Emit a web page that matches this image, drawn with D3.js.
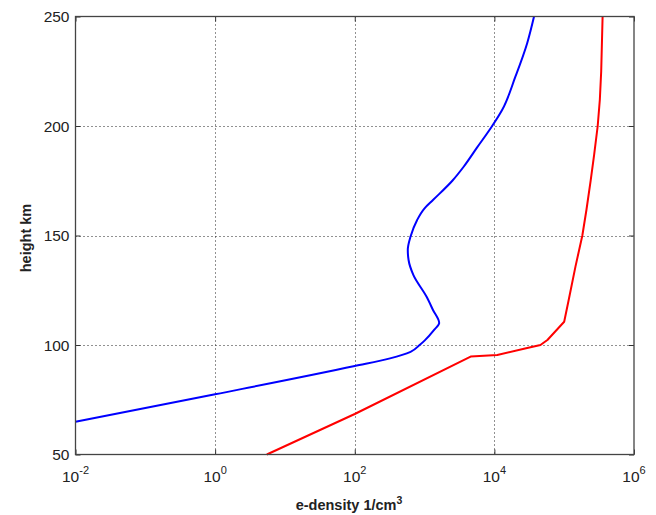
<!DOCTYPE html>
<html>
<head>
<meta charset="utf-8">
<script src="https://cdn.jsdelivr.net/npm/d3@7"></script>
<style>
  body { margin: 0; background: #fff; }
  svg { display: block; font-family: "Liberation Sans", Arial, sans-serif; }
</style>
</head>
<body>
<div id="chart"></div>
<script>
// values (height km, density 1/cm^3)
const blueHeight = [65, 77.5, 90.4, 93.9, 96.9, 100, 102, 107, 110, 116, 122, 132, 138.8, 143.4, 149.5, 157, 162.4, 166.2, 175, 181.4, 190, 200, 207.3, 222.5, 237.8, 250];
const blueDensity = [0.01, 1, 100, 320, 630, 850, 1000, 1380, 1620, 1320, 1070, 690, 590, 575, 630, 780, 1000, 1320, 2500, 3630, 5600, 9300, 12900, 20000, 29500, 37000];

const redHeight = [50, 68.5, 94.7, 95.4, 98.6, 100, 102.3, 110.6, 120, 135.8, 150, 162, 175.3, 187, 200, 212, 225, 250];
const redDensity = [5.5, 100, 4570, 11000, 29500, 45700, 57500, 100000, 115000, 145000, 182000, 209000, 240000, 269000, 302000, 324000, 339000, 355000];

const xTicks = [1e-2, 1e0, 1e2, 1e4, 1e6];
const xTickExp = ["-2", "0", "2", "4", "6"];
const yTicks = [50, 100, 150, 200, 250];

const W = 656, H = 515;
const mLeft = 75.5, mRight = 634, mTop = 16.5, mBottom = 454.5;

const svg = d3.select("#chart").append("svg")
    .attr("width", W)
    .attr("height", H);

const x = d3.scaleLog().domain([1e-2, 1e6]).range([mLeft, mRight]);
const y = d3.scaleLinear().domain([50, 250]).range([mBottom, mTop]);

// grid
const grid = svg.append("g")
    .attr("stroke", "#222")
    .attr("stroke-width", 1)
    .attr("stroke-dasharray", "1,3");

grid.selectAll(".vg").data(xTicks.slice(1, -1)).join("line")
    .attr("x1", d => Math.round(x(d)) + 0.5).attr("x2", d => Math.round(x(d)) + 0.5)
    .attr("y1", mTop).attr("y2", mBottom);

grid.selectAll(".hg").data(yTicks.slice(1, -1)).join("line")
    .attr("y1", d => Math.round(y(d)) + 0.5).attr("y2", d => Math.round(y(d)) + 0.5)
    .attr("x1", mLeft).attr("x2", mRight);

// curves
const smooth = d3.line()
    .x(d => x(d[1]))
    .y(d => y(d[0]))
    .curve(d3.curveMonotoneY);

const straight = d3.line()
    .x(d => x(d[1]))
    .y(d => y(d[0]));

const plot = svg.append("g");

plot.append("path")
    .datum(d3.zip(blueHeight, blueDensity))
    .attr("fill", "none")
    .attr("stroke", "#0000ff")
    .attr("stroke-width", 2)
    .attr("stroke-linejoin", "round")
    .attr("d", smooth);

plot.append("path")
    .datum(d3.zip(redHeight, redDensity))
    .attr("fill", "none")
    .attr("stroke", "#ff0000")
    .attr("stroke-width", 2)
    .attr("stroke-linejoin", "round")
    .attr("d", straight);

// axes (ticks inside, on all four sides)
const tickLen = 5;
svg.append("g")
    .attr("transform", `translate(0,${mBottom})`)
    .call(d3.axisBottom(x).tickValues(xTicks).tickSizeInner(-tickLen).tickSizeOuter(0).tickFormat(""));
svg.append("g")
    .attr("transform", `translate(0,${mTop})`)
    .call(d3.axisTop(x).tickValues(xTicks).tickSizeInner(-tickLen).tickSizeOuter(0).tickFormat(""));
svg.append("g")
    .attr("transform", `translate(${mLeft},0)`)
    .call(d3.axisLeft(y).tickValues(yTicks).tickSizeInner(-tickLen).tickSizeOuter(0).tickFormat(""));
svg.append("g")
    .attr("transform", `translate(${mRight},0)`)
    .call(d3.axisRight(y).tickValues(yTicks).tickSizeInner(-tickLen).tickSizeOuter(0).tickFormat(""));

svg.selectAll(".domain").remove();
svg.selectAll(".tick line").attr("stroke", "#333");

svg.append("rect")
    .attr("x", mLeft).attr("y", mTop)
    .attr("width", mRight - mLeft).attr("height", mBottom - mTop)
    .attr("fill", "none")
    .attr("stroke", "#444")
    .attr("stroke-width", 1.3);

// tick labels
svg.append("g").selectAll("text").data(yTicks).join("text")
    .attr("x", mLeft - 6)
    .attr("y", d => y(d) + 5.5)
    .attr("text-anchor", "end")
    .attr("font-size", 15.5)
    .attr("fill", "#222")
    .text(d => d);

const xl = svg.append("g").selectAll("text").data(xTicks).join("text")
    .attr("x", d => x(d))
    .attr("y", 482)
    .attr("text-anchor", "middle")
    .attr("font-size", 15.5)
    .attr("fill", "#222");
xl.append("tspan").text("10");
xl.append("tspan")
    .attr("dy", -8)
    .attr("font-size", 11)
    .text((d, i) => xTickExp[i]);

// axis titles
const xt = svg.append("text")
    .attr("x", 349)
    .attr("y", 510)
    .attr("text-anchor", "middle")
    .attr("font-size", 14.5)
    .attr("font-weight", "bold")
    .attr("fill", "#222");
xt.append("tspan").text("e-density 1/cm");
xt.append("tspan").attr("dy", -6).attr("font-size", 10.5).text("3");

svg.append("text")
    .attr("transform", "translate(31,238) rotate(-90)")
    .attr("text-anchor", "middle")
    .attr("font-size", 14.5)
    .attr("font-weight", "bold")
    .attr("fill", "#222")
    .text("height km");
</script>
</body>
</html>
